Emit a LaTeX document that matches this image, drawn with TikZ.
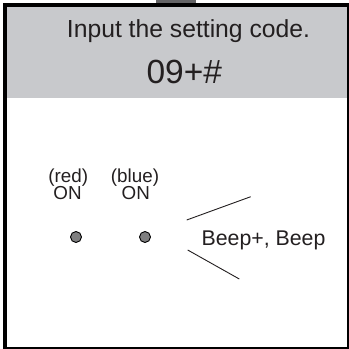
\documentclass[tikz,border=0pt]{standalone}
\usepackage{fontspec}
\setmainfont{Liberation Sans}
\definecolor{hdr}{HTML}{C8C9CC}
\definecolor{tabc}{HTML}{646466}
\definecolor{txt}{HTML}{231F20}
\definecolor{dotc}{HTML}{7F7F80}
\begin{document}
\begin{tikzpicture}[x=1pt,y=-1pt,
  lbl/.style={inner sep=0pt,anchor=base,text=txt},
  small/.style={lbl,font=\fontsize{18.8}{20}\selectfont},
  led/.style={circle,draw=black,line width=0.9pt,fill=dotc,minimum size=11pt,inner sep=0pt},
  beepline/.style={draw=txt,line width=0.9pt}]
\useasboundingbox (0,0) rectangle (349,349);
\fill[white] (5,5) rectangle (348,348);
% tab
\fill[tabc] (156,0) rectangle (196,4);
% header
\fill[hdr] (6.7,6.7) rectangle (346.7,98.3);
% frame
\fill[black] (3.3,3.3) rectangle (6.7,349);
\fill[black] (3.3,3.3) rectangle (348.7,6.7);
\fill[black] (346.7,3.3) rectangle (348.7,349);
\fill[black] (3.3,347.2) rectangle (348.7,349);
% header text
\node[lbl,font=\fontsize{24.7}{28}\selectfont] (t1) at (188.5,37.3) {Input the setting code.};
\node[lbl,font=\fontsize{33.5}{38}\selectfont] (t2) at (184.3,83) {09+\#};
% LED labels
\node[small] (r1) at (68.3,182.5) {(red)};
\node[small] (r2) at (67.5,199.5) {ON};
\node[small] (b1) at (135,182.5) {(blue)};
\node[small] (b2) at (135.8,199.5) {ON};
% LEDs
\node[led] (redled) at (76,237) {};
\node[led] (blueled) at (145,237) {};
% beep
\node[lbl,anchor=base west,font=\fontsize{21.3}{24}\selectfont] (beep) at (201.5,245.3) {Beep+, Beep};
\coordinate (u1) at (186.7,220);
\coordinate (u2) at (250.7,196.7);
\coordinate (l1) at (187.7,250);
\coordinate (l2) at (239.3,279);
\draw[beepline] (u1) -- (u2);
\draw[beepline] (l1) -- (l2);
\end{tikzpicture}
\end{document}
